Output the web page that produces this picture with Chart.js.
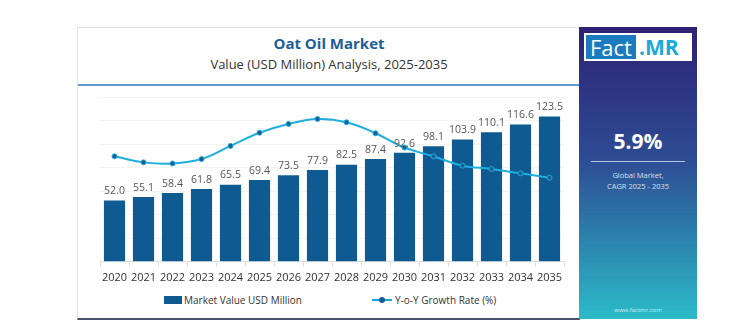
<!DOCTYPE html>
<html>
<head>
<meta charset="utf-8">
<script src="https://cdn.jsdelivr.net/npm/chart.js@4.4.1/dist/chart.umd.min.js"></script>
<style>
  body { margin: 0; background: #fff; font-family: "Open Sans", sans-serif; }
  #page { position: relative; width: 754px; height: 336px; }
  #card { position: absolute; left: 77px; top: 27px; width: 502px; height: 290px;
          border: 1px solid #e3e3e3; border-bottom: 2px solid #4a5270; border-right: none; }
  #title { position: absolute; left: 0; width: 502px; top: 5px; text-align: center;
           font-weight: 700; font-size: 15px; color: #1d5e98; }
  #subtitle { position: absolute; left: 0; width: 502px; top: 27px; text-align: center;
              font-size: 13px; color: #333; }
  #rule { position: absolute; left: 0; width: 502px; top: 56px; height: 2px; background: #5b9bd0; }
  #chartBox { position: absolute; left: 3px; top: 61px; width: 498px; height: 199px; }
  #legend { position: absolute; top: 265px; left: 0; width: 502px; font-size: 10px; color: #333; }
  .lg { position: absolute; display: flex; align-items: center; }
  .box { width: 18px; height: 8px; background: #0f5a91; margin-right: 2px; }
  .ln { position: relative; width: 20px; height: 2px; background: #1aa9dd; margin-right: 3px; }
  .ln::after { content: ""; position: absolute; left: 7px; top: -2px; width: 6px; height: 6px;
               border-radius: 3px; background: #1b5e95; }
  #side { position: absolute; left: 579px; top: 27px; width: 118px; height: 292px;
          background: linear-gradient(to bottom, #2e2275 0%, #2d4b93 45%, #2bbac8 100%); color: #fff; text-align: center; }
  #logo { position: absolute; left: 5px; top: 6px; width: 108px; height: 28px; background: #fff; display: flex; }
  #logo .f { background: #1a7bbf; color: #fff; font-size: 22px; line-height: 24px; margin: 2px 0 2px 2px; padding: 0 4px; }
  #logo .m { color: #1aa9dd; font-weight: 700; font-size: 21px; line-height: 28px; padding-left: 3px; }
  #cagr { position: absolute; top: 100px; width: 118px; font-size: 21px; font-weight: 700; }
  #sep { position: absolute; top: 134px; left: 12px; width: 94px; height: 1px; background: #b9c6e6; }
  #gm { position: absolute; top: 143px; width: 118px; font-size: 7.5px; line-height: 11px; color: #d8e0f0; }
  #url { position: absolute; top: 279px; width: 118px; font-size: 6px; color: #d5eef4; }
</style>
</head>
<body>
<div id="page">
  <div id="card">
    <div id="title">Oat Oil Market</div>
    <div id="subtitle">Value (USD Million) Analysis, 2025-2035</div>
    <div id="rule"></div>
    <div id="chartBox"><canvas id="chart"></canvas></div>
    <div id="legend">
      <div class="lg" style="left:86px;"><span class="box"></span>Market Value USD Million</div>
      <div class="lg" style="left:294px;"><span class="ln"></span>Y-o-Y Growth Rate (%)</div>
    </div>
  </div>
  <div id="side">
    <div id="logo"><span class="f">Fact</span><span class="m">.MR</span></div>
    <div id="cagr">5.9%</div>
    <div id="sep"></div>
    <div id="gm">Global Market,<br>CAGR 2025 - 2035</div>
    <div id="url">www.factmr.com</div>
  </div>
</div>
<script>
const years = ['2020', '2021', '2022', '2023', '2024', '2025', '2026', '2027',
               '2028', '2029', '2030', '2031', '2032', '2033', '2034', '2035'];
const marketValue = [52.0, 55.1, 58.4, 61.8, 65.5, 69.4, 73.5, 77.9,
                     82.5, 87.4, 92.6, 98.1, 103.9, 110.1, 116.6, 123.5];
const growthRate = [5.92, 5.81, 5.79, 5.87, 6.11, 6.35, 6.51, 6.60,
                    6.54, 6.34, 6.08, 5.92, 5.75, 5.69, 5.61, 5.53];

// labels above the bars
const barLabels = {
    id: 'barLabels',
    afterDatasetsDraw(chart) {
        const ctx = chart.ctx;
        const meta = chart.getDatasetMeta(1);
        ctx.save();
        ctx.font = '10.5px "Open Sans", sans-serif';
        ctx.fillStyle = '#555';
        ctx.textAlign = 'center';
        ctx.textBaseline = 'bottom';
        meta.data.forEach((bar, i) => {
            ctx.fillText(marketValue[i].toFixed(1), bar.x, bar.y - 4);
        });
        ctx.restore();
    }
};

const ctx = document.getElementById('chart').getContext('2d');
const myChart = new Chart(ctx, {
    data: {
        labels: years,
        datasets: [{
            type: 'line',
            label: 'Y-o-Y Growth Rate (%)',
            data: growthRate,
            yAxisID: 'y1',
            borderColor: '#1eaee0',
            borderWidth: 2,
            tension: 0.4,
            pointRadius: 2.5,
            pointBackgroundColor: '#1b5e95',
            pointBorderColor: '#1eaee0',
            pointBorderWidth: 1,
            order: 0
        }, {
            type: 'bar',
            label: 'Market Value USD Million',
            data: marketValue,
            yAxisID: 'y',
            backgroundColor: '#0f5a91',
            barPercentage: 0.73,
            categoryPercentage: 1,
            order: 1
        }]
    },
    options: {
        responsive: true,
        maintainAspectRatio: false,
        animation: false,
        layout: { padding: { left: 19, right: 15, top: 8, bottom: 0 } },
        plugins: { legend: { display: false }, tooltip: { enabled: false } },
        scales: {
            x: {
                grid: { display: true, drawOnChartArea: false, drawTicks: true, tickLength: 5, color: '#dddddd', offset: true },
                border: { color: '#dddddd' },
                ticks: { color: '#333', font: { size: 11, family: 'Open Sans' }, padding: 4, maxRotation: 0, autoSkip: false }
            },
            y: {
                min: 0, max: 140,
                ticks: { display: false, stepSize: 20 },
                grid: { color: '#f3f3f3', drawTicks: false },
                border: { display: false }
            },
            y1: { display: false, min: 4, max: 7 }
        }
    },
    plugins: [barLabels]
});
</script>
</body>
</html>
